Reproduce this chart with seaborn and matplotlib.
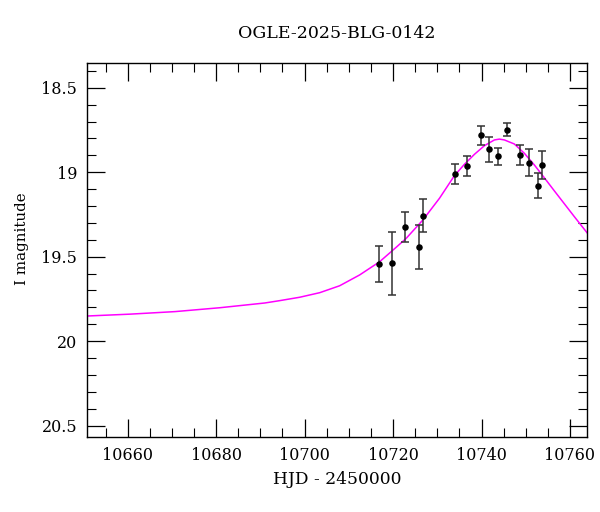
import numpy as np
import pandas as pd
import matplotlib
matplotlib.use("Agg")
import matplotlib.pyplot as plt
from matplotlib.ticker import MultipleLocator
import seaborn as sns

# Observations (HJD - 2450000, I mag, error)
obs_hjd = [10716.9, 10719.8, 10722.8, 10725.8, 10726.8, 10733.9, 10736.7, 10739.8,
           10741.8, 10743.8, 10745.8, 10748.8, 10750.8, 10752.8, 10753.7]
obs_mag = [19.541, 19.539, 19.324, 19.443, 19.257, 19.011, 18.963, 18.782,
           18.865, 18.906, 18.748, 18.898, 18.944, 19.080, 18.956]
obs_err = [0.107, 0.187, 0.091, 0.130, 0.097, 0.061, 0.059, 0.054,
           0.072, 0.050, 0.037, 0.059, 0.081, 0.075, 0.082]

# Model curve
model_hjd = [10650.81, 10660.52, 10670.68, 10680.84, 10690.99, 10694.38, 10698.89,
             10703.41, 10707.92, 10712.44, 10716.95, 10720.72, 10722.98, 10726.73,
             10730.50, 10733.88, 10736.14, 10738.40, 10740.65, 10742.91, 10744.04,
             10745.17, 10747.42, 10749.68, 10751.94, 10754.20, 10756.45, 10758.70,
             10760.95, 10763.97]
model_mag = [19.851, 19.840, 19.825, 19.802, 19.774, 19.760, 19.740,
             19.713, 19.672, 19.608, 19.530, 19.444, 19.391, 19.283,
             19.154, 19.020, 18.953, 18.894, 18.843, 18.809, 18.804,
             18.809, 18.833, 18.888, 18.957, 19.033, 19.110, 19.186,
             19.262, 19.362]

title = "OGLE-2025-BLG-0142"
xlabel = "HJD - 2450000"
ylabel = "I magnitude"

sns.set_style("ticks")
plt.rcParams["font.family"] = ["DejaVu Serif"]
plt.rcParams["text.color"] = "black"
plt.rcParams["axes.labelcolor"] = "black"
plt.rcParams["xtick.color"] = "black"
plt.rcParams["ytick.color"] = "black"

fig = plt.figure(figsize=(6.0, 5.12), dpi=100)
ax = fig.add_axes([0.145, 0.1465, 0.833, 0.731])

model_df = pd.DataFrame({"hjd": model_hjd, "mag": model_mag})
sns.lineplot(data=model_df, x="hjd", y="mag", ax=ax, color="#ff00ff",
             linewidth=1.1, sort=False, estimator=None, zorder=2)

ax.errorbar(obs_hjd, obs_mag, yerr=obs_err, fmt="none", ecolor="#333333",
            elinewidth=1.1, capsize=3, capthick=1.1, zorder=3)
obs_df = pd.DataFrame({"hjd": obs_hjd, "mag": obs_mag})
sns.scatterplot(data=obs_df, x="hjd", y="mag", ax=ax, color="black", s=22,
                edgecolor="black", linewidth=0, zorder=4)

ax.set_xlim(10650.8, 10763.8)
ax.set_ylim(20.567, 18.352)

ax.xaxis.set_major_locator(MultipleLocator(20))
ax.xaxis.set_minor_locator(MultipleLocator(5))
ax.yaxis.set_major_locator(MultipleLocator(0.5))
ax.yaxis.set_minor_locator(MultipleLocator(0.1))
ax.set_yticks([18.5, 19, 19.5, 20, 20.5])
ax.set_yticklabels(["18.5", "19", "19.5", "20", "20.5"])

ax.tick_params(which="both", direction="in", top=True, right=True,
               colors="black", labelcolor="black", labelsize=11.5)
ax.tick_params(which="major", length=13, width=0.9, pad=7)
ax.tick_params(which="minor", length=6.5, width=0.8)
for s in ax.spines.values():
    s.set_color("black")
    s.set_linewidth(1.0)

ax.set_xlabel(xlabel, fontsize=12.3, labelpad=5, color="black")
ax.set_ylabel(ylabel, fontsize=10.8, color="black")
ax.yaxis.set_label_coords(-0.116, 0.529)
ax.set_title(title, fontsize=12.5, pad=18, color="black")

fig.savefig("out.png", dpi=100)
